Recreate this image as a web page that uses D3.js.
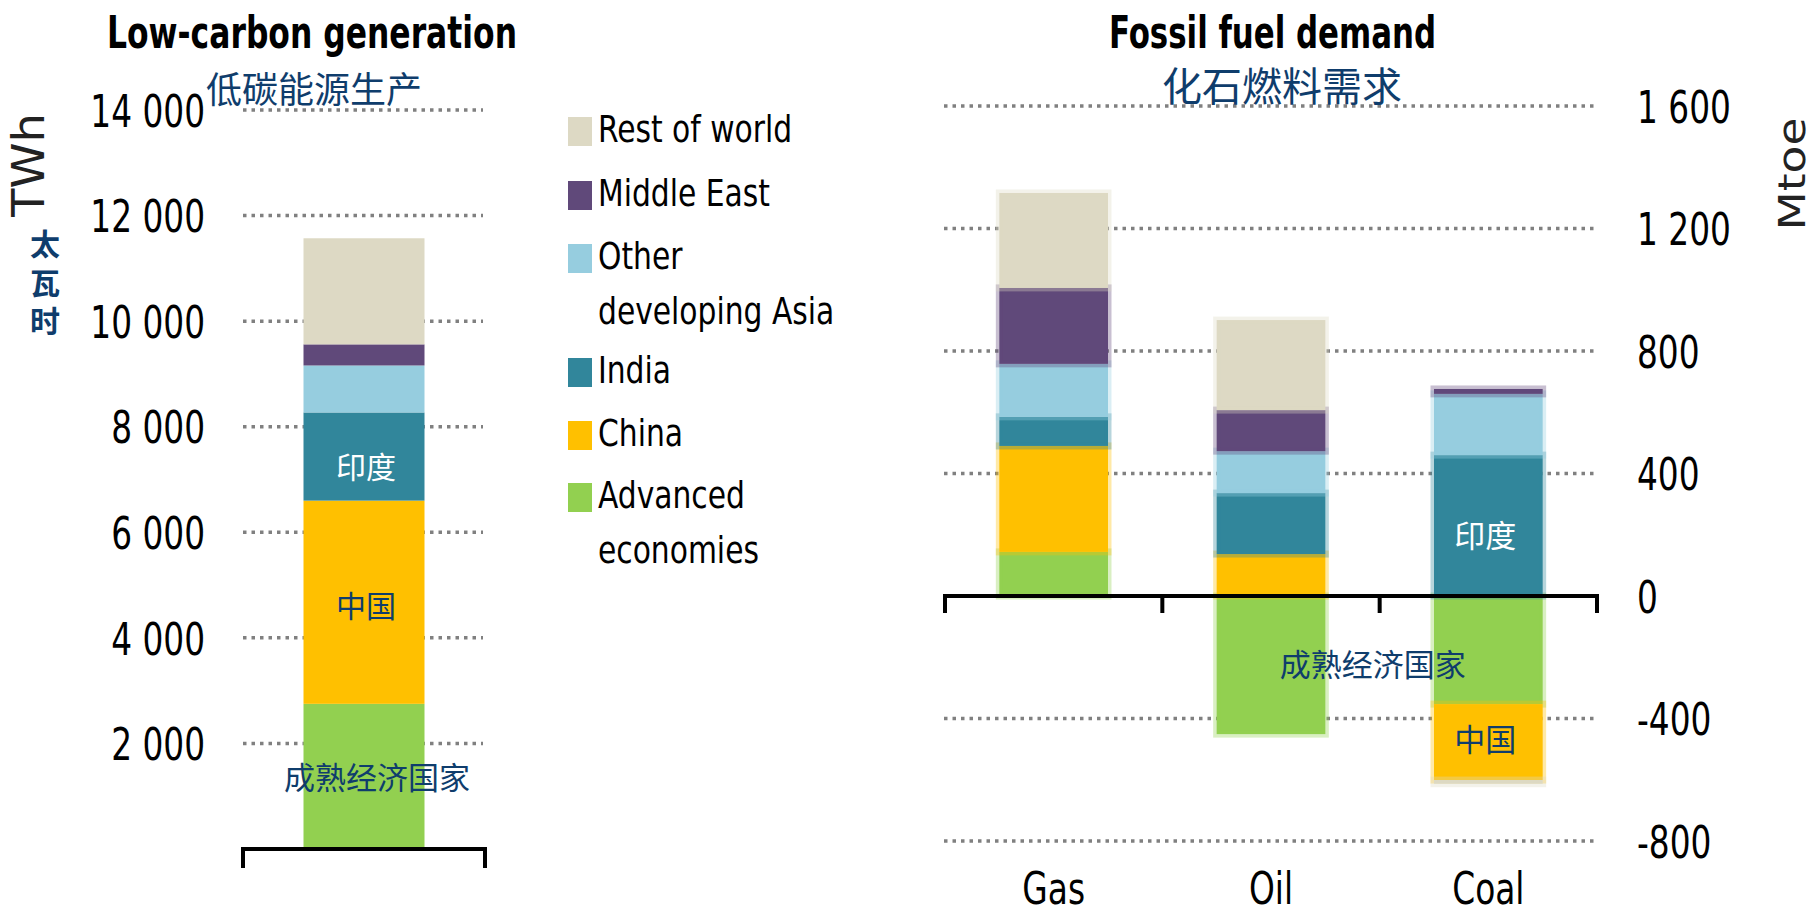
<!DOCTYPE html>
<html><head><meta charset="utf-8">
<script src="https://cdn.jsdelivr.net/npm/d3@7/dist/d3.min.js"></script>
<style>
html,body{margin:0;padding:0;background:#fff;}
svg{display:block;}
</style></head><body>
<svg id="chart" width="1816" height="914"></svg>
<script>
// ---------- data ----------
const seriesKeys   = ["adv", "china", "india", "otherAsia", "middleEast", "rest"];
const legendLines  = {
  rest: ["Rest of world"], middleEast: ["Middle East"], otherAsia: ["Other", "developing Asia"],
  india: ["India"], china: ["China"], adv: ["Advanced", "economies"]
};
const legendOrder  = ["rest", "middleEast", "otherAsia", "india", "china", "adv"];
const seriesColors = { adv: "#92d050", china: "#ffc000", india: "#31869b", otherAsia: "#96cddf", middleEast: "#60497a", rest: "#ddd9c4" };

// Low-carbon generation (TWh)
const lowCarbonCategories = ["Low-carbon"];
const lowCarbonAdv        = [2750];
const lowCarbonChina      = [3850];
const lowCarbonIndia      = [1670];
const lowCarbonOtherAsia  = [890];
const lowCarbonMiddleEast = [400];
const lowCarbonRest       = [2010];
const lowCarbonTicks      = [2000, 4000, 6000, 8000, 10000, 12000, 14000];

// Fossil fuel demand (Mtoe)
const fossilCategories = ["Gas", "Oil", "Coal"];
const fossilAdv        = [144, -451, -353];
const fossilChina      = [346, 137, -248];
const fossilIndia      = [95, 199, 460];
const fossilOtherAsia  = [173, 137, 200];
const fossilMiddleEast = [248, 134, 16];
const fossilRest       = [310, 294, -12];
const fossilTicks      = [-800, -400, 0, 400, 800, 1200, 1600];

// Texts
const titleLeft   = "Low-carbon generation";
const subLeft     = "低碳能源生产";
const titleRight  = "Fossil fuel demand";
const subRight    = "化石燃料需求";
const unitLeft    = "TWh";
const unitLeftCn  = "太瓦时";
const unitRight   = "Mtoe";
const labelIndia  = "印度";
const labelChina  = "中国";
const labelAdv    = "成熟经济国家";

// ---------- helpers ----------
const NARROW = "'Liberation Sans Narrow','Arial Narrow','DejaVu Sans Condensed',sans-serif";
const CJK = "'Noto Sans CJK SC','Noto Sans CJK JP',sans-serif";
const NAVY = "#0f3d6c";
const fmt = n => (n < 0 ? "-" : "") + d3.format(",")(Math.abs(n)).replace(/,/g, " ");
const svg = d3.select("#chart");
const stack = d3.stack().keys(seriesKeys).offset(d3.stackOffsetDiverging);

function rows(cats, arrs) {
  return cats.map((c, i) => {
    const o = { cat: c };
    seriesKeys.forEach((k, j) => o[k] = arrs[j][i]);
    return o;
  });
}
function fit(sel, w) { sel.attr("textLength", w).attr("lengthAdjust", "spacingAndGlyphs"); }
function squeeze(sel, f) {
  sel.each(function () {
    const w = this.getComputedTextLength();
    d3.select(this).attr("textLength", w * f).attr("lengthAdjust", "spacingAndGlyphs");
  });
}

// ================= LEFT CHART =================
const yL = d3.scaleLinear().domain([0, 14000]).range([849, 110]);
const xL = d3.scaleBand().domain(lowCarbonCategories).range([243, 485]).paddingInner(0).paddingOuter(0.5);
const left = svg.append("g");

left.append("g").selectAll("line").data(lowCarbonTicks).join("line")
  .attr("x1", xL.range()[0]).attr("x2", xL.range()[1] - 2)
  .attr("y1", d => yL(d)).attr("y2", d => yL(d))
  .attr("stroke", "#808080").attr("stroke-width", 3.5).attr("stroke-dasharray", "3.5,5");

const lowStack = stack(rows(lowCarbonCategories, [lowCarbonAdv, lowCarbonChina, lowCarbonIndia, lowCarbonOtherAsia, lowCarbonMiddleEast, lowCarbonRest]));
left.append("g").selectAll("g").data(lowStack).join("g")
  .attr("fill", s => seriesColors[s.key])
  .selectAll("rect").data(s => s).join("rect")
  .attr("x", d => xL(d.data.cat)).attr("width", xL.bandwidth())
  .attr("y", d => yL(Math.max(d[0], d[1]))).attr("height", d => Math.abs(yL(d[0]) - yL(d[1])));

// baseline bracket
{
  const [r0, r1] = xL.range(), y0 = yL(0);
  left.append("path").attr("d", `M${r0},${y0 + 19}V${y0}H${r1}V${y0 + 19}`)
    .attr("fill", "none").attr("stroke", "#000").attr("stroke-width", 4);
}

// y axis labels
const axL = left.append("g").attr("transform", "translate(205,0)")
  .call(d3.axisLeft(yL).tickValues(lowCarbonTicks).tickFormat(fmt).tickSize(0).tickPadding(0));
axL.select(".domain").remove();
axL.selectAll("text").attr("font-family", NARROW).attr("font-size", 45).attr("fill", "#000").attr("dy", "0.36em")
  .call(squeeze, 0.81);

// segment labels
function segCenter(st, key, i, y) { const d = st.find(s => s.key === key)[i]; return (y(d[0]) + y(d[1])) / 2; }
const xLc = xL(lowCarbonCategories[0]) + xL.bandwidth() / 2;
left.append("text").text(labelIndia).attr("x", xLc + 2).attr("y", segCenter(lowStack, "india", 0, yL) + 8)
  .attr("font-family", CJK).attr("font-size", 30).attr("fill", "#fff").attr("text-anchor", "middle").attr("dominant-baseline", "central");
left.append("text").text(labelChina).attr("x", xLc + 2).attr("y", segCenter(lowStack, "china", 0, yL) + 2)
  .attr("font-family", CJK).attr("font-size", 30).attr("fill", NAVY).attr("text-anchor", "middle").attr("dominant-baseline", "central");
left.append("text").text(labelAdv).attr("x", xLc + 13).attr("y", segCenter(lowStack, "adv", 0, yL) - 1)
  .attr("font-family", CJK).attr("font-size", 31).attr("fill", NAVY).attr("text-anchor", "middle").attr("dominant-baseline", "central");

// titles
left.append("text").text(titleLeft).attr("x", 107).attr("y", 48)
  .attr("font-family", NARROW).attr("font-weight", "bold").attr("font-size", 44).attr("fill", "#000").call(fit, 410);
left.append("text").text(subLeft).attr("x", 314).attr("y", 87)
  .attr("font-family", CJK).attr("font-size", 36).attr("fill", NAVY).attr("text-anchor", "middle").attr("dominant-baseline", "central");

// units
left.append("text").text(unitLeft).attr("transform", "translate(44,165) rotate(-90)")
  .attr("font-family", NARROW).attr("font-size", 44).attr("fill", "#222").attr("text-anchor", "middle").call(fit, 104);
left.append("text").text(unitLeftCn)
  .attr("x", 45).attr("y", 229)
  .style("writing-mode", "vertical-rl").style("text-orientation", "upright")
  .attr("letter-spacing", 8.5)
  .attr("font-family", CJK).attr("font-weight", "bold").attr("font-size", 30).attr("fill", NAVY);

// ================= LEGEND =================
const legY = { rest: 117, middleEast: 181, otherAsia: 244, india: 358, china: 421, adv: 483 };
const leg = svg.append("g");
legendOrder.forEach(k => {
  leg.append("rect").attr("x", 568).attr("y", legY[k]).attr("width", 24).attr("height", 29).attr("fill", seriesColors[k]);
  legendLines[k].forEach((t, j) => {
    leg.append("text").text(t).attr("x", 598).attr("y", legY[k] + 25 + j * 55)
      .attr("font-family", NARROW).attr("font-size", 38).attr("fill", "#000").call(squeeze, 0.87);
  });
});

// ================= RIGHT CHART =================
const yR = d3.scaleLinear().domain([-800, 1600]).range([841, 106]);
const xR = d3.scaleBand().domain(fossilCategories).range([945, 1597]).paddingInner(0.5).paddingOuter(0.25);
const right = svg.append("g");

right.append("g").selectAll("line").data(fossilTicks.filter(d => d !== 0)).join("line")
  .attr("x1", 944).attr("x2", 1595)
  .attr("y1", d => yR(d)).attr("y2", d => yR(d))
  .attr("stroke", "#808080").attr("stroke-width", 3.5).attr("stroke-dasharray", "3.5,5");

const fosStack = stack(rows(fossilCategories, [fossilAdv, fossilChina, fossilIndia, fossilOtherAsia, fossilMiddleEast, fossilRest]));
right.append("g").selectAll("g").data(fosStack).join("g")
  .attr("fill", s => seriesColors[s.key]).attr("stroke", s => seriesColors[s.key])
  .attr("stroke-opacity", 0.35).attr("stroke-width", 7)
  .selectAll("rect").data(s => s.filter(d => d[0] !== d[1])).join("rect")
  .attr("x", d => xR(d.data.cat)).attr("width", xR.bandwidth())
  .attr("y", d => yR(Math.max(d[0], d[1]))).attr("height", d => Math.abs(yR(d[0]) - yR(d[1])));

// baseline with category ticks
{
  const [r0, r1] = xR.range(), y0 = yR(0), st = xR.step();
  let p = `M${r0},${y0}H${r1}`;
  for (let i = 0; i <= fossilCategories.length; i++) p += `M${r0 + i * st},${y0 - 2}V${y0 + 17}`;
  right.append("path").attr("d", p).attr("fill", "none").attr("stroke", "#000").attr("stroke-width", 4);
}

// right axis labels
const axR = right.append("g").attr("transform", "translate(1637,0)")
  .call(d3.axisRight(yR).tickValues(fossilTicks).tickFormat(fmt).tickSize(0).tickPadding(0));
axR.select(".domain").remove();
axR.selectAll("text").attr("font-family", NARROW).attr("font-size", 45).attr("fill", "#000").attr("dy", "0.36em")
  .call(squeeze, 0.81);

// category labels
const axC = right.append("g").attr("transform", "translate(0,904)")
  .call(d3.axisBottom(xR).tickSize(0).tickPadding(0));
axC.select(".domain").remove();
axC.selectAll("text").attr("y", 0).attr("dy", 0).attr("font-family", NARROW).attr("font-size", 44).attr("fill", "#000")
  .call(squeeze, 0.83);

// segment labels
const bwR = xR.bandwidth();
const cx = c => xR(c) + bwR / 2;
const ci = c => fossilCategories.indexOf(c);
right.append("text").text(labelIndia).attr("x", cx("Coal") - 3).attr("y", segCenter(fosStack, "india", ci("Coal"), yR) + 8)
  .attr("font-family", CJK).attr("font-size", 31).attr("fill", "#fff").attr("text-anchor", "middle").attr("dominant-baseline", "central");
right.append("text").text(labelChina).attr("x", cx("Coal") - 3).attr("y", segCenter(fosStack, "china", ci("Coal"), yR) - 5)
  .attr("font-family", CJK).attr("font-size", 31).attr("fill", NAVY).attr("text-anchor", "middle").attr("dominant-baseline", "central");
right.append("text").text(labelAdv)
  .attr("x", (cx("Oil") + cx("Coal")) / 2 - 7)
  .attr("y", (segCenter(fosStack, "adv", ci("Oil"), yR) + segCenter(fosStack, "adv", ci("Coal"), yR)) / 2 + 5)
  .attr("font-family", CJK).attr("font-size", 31).attr("fill", NAVY).attr("text-anchor", "middle").attr("dominant-baseline", "central");

// titles
right.append("text").text(titleRight).attr("x", 1109).attr("y", 48)
  .attr("font-family", NARROW).attr("font-weight", "bold").attr("font-size", 44).attr("fill", "#000").call(fit, 327);
right.append("text").text(subRight).attr("x", 1282).attr("y", 84)
  .attr("font-family", CJK).attr("font-size", 40).attr("fill", NAVY).attr("text-anchor", "middle").attr("dominant-baseline", "central");

// unit
right.append("text").text(unitRight).attr("transform", "translate(1805,174) rotate(-90)")
  .attr("font-family", NARROW).attr("font-size", 38).attr("fill", "#222").attr("text-anchor", "middle").call(fit, 113);
</script>
</body></html>
